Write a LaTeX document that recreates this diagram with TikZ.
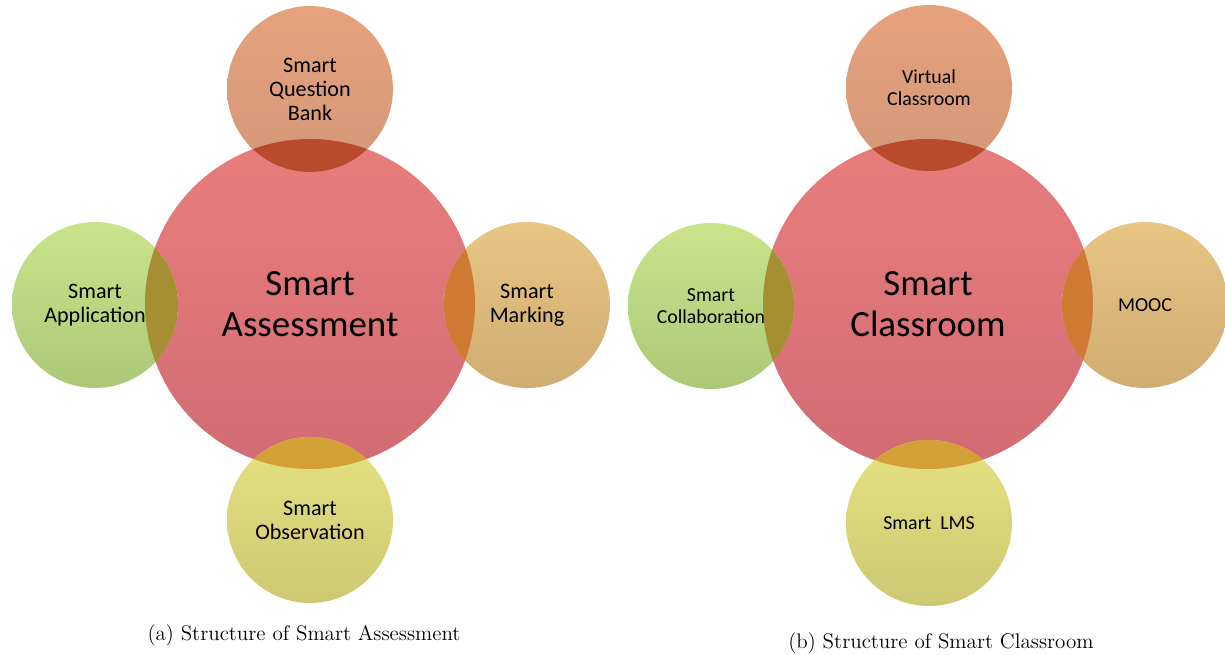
\documentclass[tikz,border=0pt]{standalone}
\usepackage{fontspec}
\newfontfamily\labelfont{Carlito}
\usetikzlibrary{calc}

\definecolor{hubTop}{HTML}{E87D7D}
\definecolor{hubBot}{HTML}{D16C74}
\definecolor{northTop}{HTML}{E6A27D}
\definecolor{northBot}{HTML}{D39878}
\definecolor{westTop}{HTML}{C9E48A}
\definecolor{westBot}{HTML}{AAC877}
\definecolor{eastTop}{HTML}{E7C583}
\definecolor{eastBot}{HTML}{CFAC72}
\definecolor{southTop}{HTML}{E5E282}
\definecolor{southBot}{HTML}{CDC872}
\definecolor{northLens}{HTML}{BA4A2C}
\definecolor{westLens}{HTML}{A68F32}
\definecolor{eastLens}{HTML}{CE7A33}
\definecolor{southLens}{HTML}{D3A035}

\tikzset{
	hub/.style = {circle, inner sep = 0pt, minimum size = 6.6cm},
	sat/.style = {circle, inner sep = 0pt, minimum size = 3.32cm},
	hubtext/.style = {align = center, text = black, font = \labelfont\fontsize{21}{23.3}\selectfont},
	sattext/.style = {align = center, text = black, font = \labelfont\fontsize{12.6}{13.7}\selectfont},
	sattextb/.style = {align = center, text = black, font = \labelfont\fontsize{11.3}{12.5}\selectfont},
	captext/.style = {font = \fontsize{12}{14}\selectfont}
}

\begin{document}
\begin{tikzpicture}[x = 0.02cm, y = -0.02cm]
		\useasboundingbox (0,0) rectangle (1225,655);
		\fill[white] (0,0) rectangle (1225,655);
		
		\node[hub, top color = hubTop, bottom color = hubBot] (assess) at (310,304) {};
		\node[sat, top color = northTop, bottom color = northBot] (qbank) at (310,89) {};
		\node[sat, top color = westTop, bottom color = westBot] (applic) at (95,305) {};
		\node[sat, top color = eastTop, bottom color = eastBot] (marking) at (527,305) {};
		\node[sat, top color = southTop, bottom color = southBot] (observ) at (310,520) {};
		
		\begin{scope}
			\clip (assess.center) circle [radius = 165];
			\fill[northLens] (qbank.center) circle [radius = 83];
			\fill[westLens] (applic.center) circle [radius = 83];
			\fill[eastLens] (marking.center) circle [radius = 83];
			\fill[southLens] (observ.center) circle [radius = 83];
		\end{scope}
		
		\node[hubtext] (assessT) at (assess.center) {Smart\\Assessment};
		\node[sattext] (qbankT) at (qbank.center) {Smart\\Question\\Bank};
		\node[sattext] (applicT) at (applic.center) {Smart\\Application};
		\node[sattext] (markingT) at (marking.center) {Smart\\Marking};
		\node[sattext] (observT) at (observ.center) {Smart\\Observation};
		
		\node[hub, top color = hubTop, bottom color = hubBot] (class) at (928,304) {};
		\node[sat, top color = northTop, bottom color = northBot] (virtual) at (929,88) {};
		\node[sat, top color = westTop, bottom color = westBot] (collab) at (711,306) {};
		\node[sat, top color = eastTop, bottom color = eastBot] (mooc) at (1145,305) {};
		\node[sat, top color = southTop, bottom color = southBot] (lms) at (929,523) {};
		
		\begin{scope}
			\clip (class.center) circle [radius = 165];
			\fill[northLens] (virtual.center) circle [radius = 83];
			\fill[westLens] (collab.center) circle [radius = 83];
			\fill[eastLens] (mooc.center) circle [radius = 83];
			\fill[southLens] (lms.center) circle [radius = 83];
		\end{scope}
		
		\node[hubtext] (classT) at (class.center) {Smart\\Classroom};
		\node[sattextb] (virtualT) at (virtual.center) {Virtual\\Classroom};
		\node[sattextb] (collabT) at (collab.center) {Smart\\Collaboration};
		\node[sattextb] (moocT) at (mooc.center) {MOOC};
		\node[sattextb] (lmsT) at (lms.center) {Smart\ \ LMS};
		
		\node[captext] (capA) at (304,635) {(a) Structure of Smart Assessment};
		\node[captext] (capB) at (941,643) {(b) Structure of Smart Classroom};
	\end{tikzpicture}
\end{document}
